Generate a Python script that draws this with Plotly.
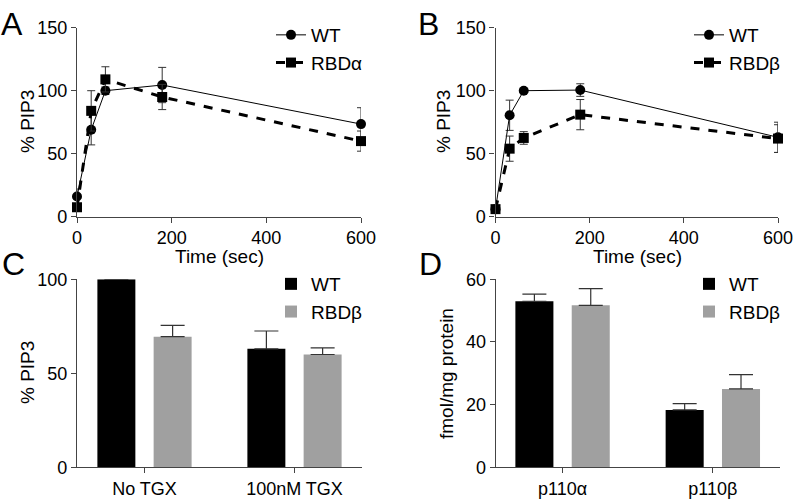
import plotly.graph_objects as go

W, H = 793, 500

# panel A/B time courses
time_sec = [0, 30, 60, 180, 600]
a_wt = [16, 69, 100, 104.5, 73.5]
a_wt_err = [6, 12, 3, 14, 13]
a_rbd = [7.5, 84, 109, 95, 60]
a_rbd_err = [3, 16, 10, 10, 8]

b_wt = [6, 80.5, 100, 100.5, 63]
b_wt_err = [2, 12, 1.5, 5, 12]
b_rbd = [6, 54, 62.5, 81, 62]
b_rbd_err = [2, 10, 5, 12, 11]

# panel C
c_cats = ["No TGX", "100nM TGX"]
c_wt = [100, 63]
c_wt_err = [0, 9.5]
c_rbd = [69.5, 60]
c_rbd_err = [6, 3.5]

# panel D
d_cats = ["p110α", "p110β"]
d_wt = [53, 18.3]
d_wt_err = [2.3, 2]
d_rbd = [51.7, 25]
d_rbd_err = [5.3, 4.6]

FONT = "Arial, Liberation Sans, Helvetica, sans-serif"
AX = "#444444"
ERR = "#333333"
GREY = "#a0a0a0"


def px_x(v):
    return v / W


def px_y(v):
    return 1 - v / H


fig = go.Figure()


def line_pair(xa, ya, leg, wt, wte, rbd, rbde, rbd_name):
    fig.add_trace(go.Scatter(
        x=time_sec, y=wt, name="WT", mode="lines+markers",
        line=dict(color="black", width=1),
        marker=dict(symbol="circle", size=10, color="black"),
        error_y=dict(type="data", array=wte, color=ERR, thickness=1, width=4),
        xaxis=xa, yaxis=ya, legend=leg, cliponaxis=False))
    fig.add_trace(go.Scatter(
        x=time_sec, y=rbd, name=rbd_name, mode="lines+markers",
        line=dict(color="black", width=3, dash="dash"),
        marker=dict(symbol="square", size=10, color="black"),
        error_y=dict(type="data", array=rbde, color=ERR, thickness=1, width=4),
        xaxis=xa, yaxis=ya, legend=leg, cliponaxis=False))


def bar_pair(xa, ya, leg, cats, wt, wte, rbd, rbde):
    fig.add_trace(go.Bar(
        x=cats, y=wt, name="WT", marker=dict(color="black", line=dict(width=0)),
        error_y=dict(type="data", symmetric=False, array=wte, arrayminus=[0] * len(wte),
                     color=ERR, thickness=1.2, width=12),
        xaxis=xa, yaxis=ya, legend=leg))
    fig.add_trace(go.Bar(
        x=cats, y=rbd, name="RBDβ", marker=dict(color=GREY, line=dict(width=0)),
        error_y=dict(type="data", symmetric=False, array=rbde, arrayminus=[0] * len(rbde),
                     color=ERR, thickness=1.2, width=12),
        xaxis=xa, yaxis=ya, legend=leg))


line_pair("x", "y", "legend", a_wt, a_wt_err, a_rbd, a_rbd_err, "RBDα")
line_pair("x2", "y2", "legend2", b_wt, b_wt_err, b_rbd, b_rbd_err, "RBDβ")
bar_pair("x3", "y3", "legend3", c_cats, c_wt, c_wt_err, c_rbd, c_rbd_err)
bar_pair("x4", "y4", "legend4", d_cats, d_wt, d_wt_err, d_rbd, d_rbd_err)

axis_common = dict(showline=True, linecolor=AX, linewidth=1.2, ticks="outside",
                   ticklen=5, tickcolor=AX, tickwidth=1.2, showgrid=False,
                   zeroline=False, automargin=False, ticklabeloverflow="allow",
                   tickfont=dict(family=FONT, size=18, color="black"))

top_dom = [px_y(216.7), px_y(27.7)]
bot_dom = [px_y(467.3), px_y(279.3)]

fig.update_layout(
    template="none",
    xaxis=dict(domain=[px_x(77), px_x(361)], range=[0, 600], tickvals=[0, 200, 400, 600],
               anchor="y", **axis_common),
    yaxis=dict(domain=top_dom, range=[0, 150], tickvals=[0, 50, 100, 150], anchor="x",
               **axis_common),
    xaxis2=dict(domain=[px_x(495.5), px_x(778)], range=[0, 600], tickvals=[0, 200, 400, 600],
                anchor="y2", **axis_common),
    yaxis2=dict(domain=top_dom, range=[0, 150], tickvals=[0, 50, 100, 150], anchor="x2",
                **axis_common),
    xaxis3=dict(domain=[px_x(77), px_x(362)], range=[-0.45, 1.45], anchor="y3", **axis_common),
    yaxis3=dict(domain=bot_dom, range=[0, 100], tickvals=[0, 50, 100], anchor="x3",
                **axis_common),
    xaxis4=dict(domain=[px_x(495.7), px_x(780)], range=[-0.445, 1.447], anchor="y4",
                **axis_common),
    yaxis4=dict(domain=bot_dom, range=[0, 60], tickvals=[0, 20, 40, 60], anchor="x4",
                **axis_common),
    barmode="group", bargap=0.25, bargroupgap=0.325,
    width=W, height=H, margin=dict(l=0, r=0, t=0, b=0, autoexpand=False),
    paper_bgcolor="white", plot_bgcolor="white",
    font=dict(family=FONT, color="black"),
)

leg_common = dict(font=dict(family=FONT, size=19, color="black"), bgcolor="rgba(0,0,0,0)",
                  itemwidth=30, tracegroupgap=0, xanchor="left", yanchor="top",
                  itemclick=False)
fig.update_layout(
    legend=dict(x=px_x(271), y=px_y(16), **leg_common),
    legend2=dict(x=px_x(689), y=px_y(16), **leg_common),
    legend3=dict(x=px_x(271), y=px_y(265), **leg_common),
    legend4=dict(x=px_x(689), y=px_y(265), **leg_common),
)

ann = [
    ("A", 12, 24, 32, 0), ("B", 428, 24, 32, 0), ("C", 13, 264, 32, 0), ("D", 430, 264, 32, 0),
    ("Time (sec)", 219, 256, 19, 0), ("Time (sec)", 637, 256, 19, 0),
    ("% PIP3", 27, 122, 19, -90), ("% PIP3", 443, 122, 19, -90),
    ("% PIP3", 27, 373, 19, -90), ("fmol/mg protein", 446, 374, 19, -90),
]
for text, x, y, size, ang in ann:
    fig.add_annotation(text=text, x=px_x(x), y=px_y(y), xref="paper", yref="paper",
                       showarrow=False, textangle=ang, xanchor="center", yanchor="middle",
                       font=dict(family=FONT, size=size, color="black"))

# drop the default page margin so the figure sits at the window's top-left corner
fig.write_html("out.html", config={"displayModeBar": False},
               post_script="document.body.style.margin='0px';")
